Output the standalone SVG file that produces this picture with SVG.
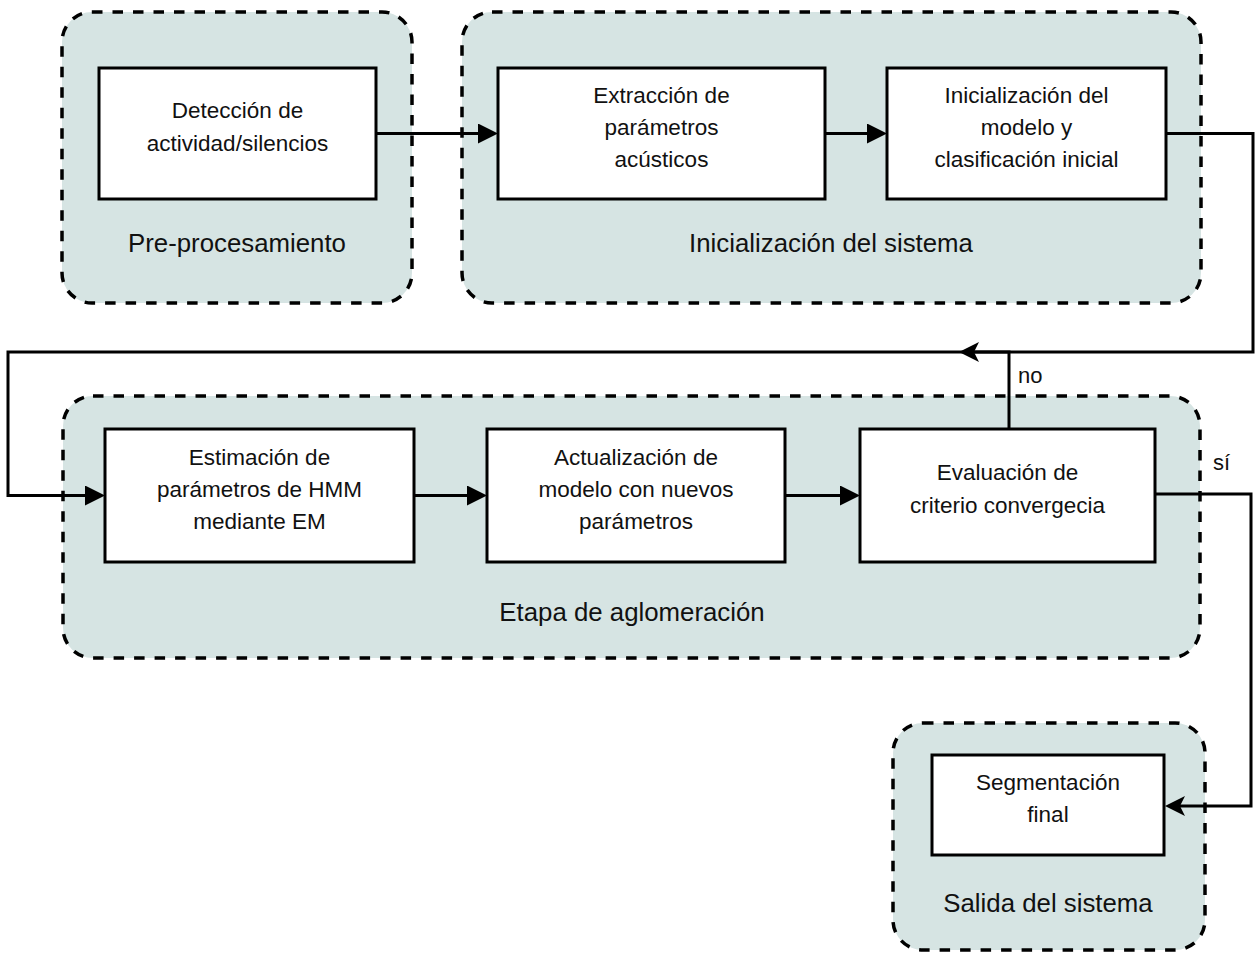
<svg xmlns="http://www.w3.org/2000/svg" width="1255" height="954" viewBox="0 0 1255 954">
<defs>
<style>
.grp{fill:#d6e4e3;stroke:#000;stroke-width:3.5;stroke-dasharray:10.5 10}
.box{fill:#fff;stroke:#000;stroke-width:3}
.t{font-family:"Liberation Sans",Arial,sans-serif;font-size:22.5px;fill:#111;text-anchor:middle}
.lbl{font-family:"Liberation Sans",Arial,sans-serif;font-size:25.8px;fill:#111;text-anchor:middle}
.el{font-family:"Liberation Sans",Arial,sans-serif;font-size:22px;fill:#111}
.c{fill:none;stroke:#000;stroke-width:3}
</style>
<marker id="tri" markerUnits="userSpaceOnUse" markerWidth="20" markerHeight="20" refX="16" refY="10" orient="auto"><path d="M0,0 L20,10 L0,20 Z" fill="#000"/></marker>
<marker id="cls" markerUnits="userSpaceOnUse" markerWidth="20" markerHeight="20" refX="16" refY="10" orient="auto"><path d="M0,0 L20,10 L0,20 L5,10 Z" fill="#000"/></marker>
</defs>
<rect width="1255" height="954" fill="#fff"/>
<g id="g-pre"><rect class="grp" x="62" y="12" width="350" height="291" rx="30"/><text class="lbl" x="237" y="252">Pre-procesamiento</text></g>
<g id="g-init"><rect class="grp" x="462" y="12" width="739" height="291" rx="30"/><text class="lbl" x="831" y="252">Inicialización del sistema</text></g>
<g id="g-aglo"><rect class="grp" x="63" y="396" width="1137" height="262" rx="30"/><text class="lbl" x="632" y="621">Etapa de aglomeración</text></g>
<g id="g-sal"><rect class="grp" x="893" y="723" width="312" height="227" rx="30"/><text class="lbl" x="1048" y="912">Salida del sistema</text></g>
<g id="n-det"><rect class="box" x="99" y="68" width="277" height="131"/><text class="t" x="237.5" y="118">Detección de</text><text class="t" x="237.5" y="151">actividad/silencios</text></g>
<g id="n-ext"><rect class="box" x="498" y="68" width="327" height="131"/><text class="t" x="661.5" y="103">Extracción de</text><text class="t" x="661.5" y="135">parámetros</text><text class="t" x="661.5" y="167">acústicos</text></g>
<g id="n-ini"><rect class="box" x="887" y="68" width="279" height="131"/><text class="t" x="1026.5" y="103">Inicialización del</text><text class="t" x="1026.5" y="135">modelo y</text><text class="t" x="1026.5" y="167">clasificación inicial</text></g>
<g id="n-est"><rect class="box" x="105" y="429" width="309" height="133"/><text class="t" x="259.5" y="465">Estimación de</text><text class="t" x="259.5" y="497">parámetros de HMM</text><text class="t" x="259.5" y="529">mediante EM</text></g>
<g id="n-act"><rect class="box" x="487" y="429" width="298" height="133"/><text class="t" x="636" y="465">Actualización de</text><text class="t" x="636" y="497">modelo con nuevos</text><text class="t" x="636" y="529">parámetros</text></g>
<g id="n-eva"><rect class="box" x="860" y="429" width="295" height="133"/><text class="t" x="1007.5" y="480">Evaluación de</text><text class="t" x="1007.5" y="513">criterio convergecia</text></g>
<g id="n-seg"><rect class="box" x="932" y="755" width="232" height="100"/><text class="t" x="1048" y="790">Segmentación</text><text class="t" x="1048" y="822">final</text></g>
<g id="connectors">
<path class="c" d="M376,133.5 H494" marker-end="url(#tri)"/>
<path class="c" d="M825,133.5 H883" marker-end="url(#tri)"/>
<path class="c" d="M1166,133.5 H1253 V352 H8 V495.5 H101" marker-end="url(#tri)"/>
<path class="c" d="M1009,429 V352 H963" marker-end="url(#cls)"/>
<path class="c" d="M414,495.5 H483" marker-end="url(#tri)"/>
<path class="c" d="M785,495.5 H856" marker-end="url(#tri)"/>
<path class="c" d="M1155,494 H1251 V806 H1169" marker-end="url(#cls)"/>
<text class="el" x="1018" y="383">no</text>
<text class="el" x="1213" y="470">sí</text>
</g>
</svg>
